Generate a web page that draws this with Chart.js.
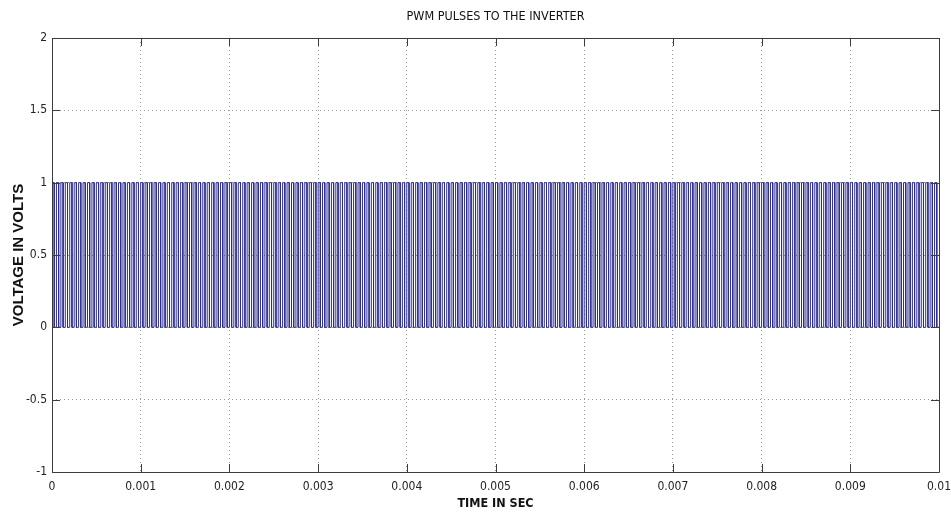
<!DOCTYPE html>
<html>
<head>
<meta charset="utf-8">
<script src="https://cdn.jsdelivr.net/npm/chart.js@4/dist/chart.umd.min.js"></script>
<style>
  html, body { margin: 0; padding: 0; background: #fff; }
  canvas { display: block; }
</style>
</head>
<body>
<canvas id="pwm-chart" width="951" height="516"></canvas>
<script>
const chartTitle = 'PWM PULSES TO THE INVERTER';
const xTitle = 'TIME IN SEC';
const yTitle = 'VOLTAGE IN VOLTS';

// carrier: about 20 pulses per 1 ms division
const carrierPeriod = 0.00005;
// on-fraction of each carrier period (all look ~half)
const dutyCycles = [
  0.5,0.5,0.5,0.5,0.5,0.5,0.5,0.5,0.5,0.5,0.5,0.5,0.5,0.5,0.5,0.5,0.5,0.5,0.5,0.5,
  0.5,0.5,0.5,0.5,0.5,0.5,0.5,0.5,0.5,0.5,0.5,0.5,0.5,0.5,0.5,0.5,0.5,0.5,0.5,0.5,
  0.5,0.5,0.5,0.5,0.5,0.5,0.5,0.5,0.5,0.5,0.5,0.5,0.5,0.5,0.5,0.5,0.5,0.5,0.5,0.5,
  0.5,0.5,0.5,0.5,0.5,0.5,0.5,0.5,0.5,0.5,0.5,0.5,0.5,0.5,0.5,0.5,0.5,0.5,0.5,0.5,
  0.5,0.5,0.5,0.5,0.5,0.5,0.5,0.5,0.5,0.5,0.5,0.5,0.5,0.5,0.5,0.5,0.5,0.5,0.5,0.5,
  0.5,0.5,0.5,0.5,0.5,0.5,0.5,0.5,0.5,0.5,0.5,0.5,0.5,0.5,0.5,0.5,0.5,0.5,0.5,0.5,
  0.5,0.5,0.5,0.5,0.5,0.5,0.5,0.5,0.5,0.5,0.5,0.5,0.5,0.5,0.5,0.5,0.5,0.5,0.5,0.5,
  0.5,0.5,0.5,0.5,0.5,0.5,0.5,0.5,0.5,0.5,0.5,0.5,0.5,0.5,0.5,0.5,0.5,0.5,0.5,0.5,
  0.5,0.5,0.5,0.5,0.5,0.5,0.5,0.5,0.5,0.5,0.5,0.5,0.5,0.5,0.5,0.5,0.5,0.5,0.5,0.5,
  0.5,0.5,0.5,0.5,0.5,0.5,0.5,0.5,0.5,0.5,0.5,0.5,0.5,0.5,0.5,0.5,0.5,0.5,0.5,0.5
];
const pulseHigh = 1;
const pulseLow = 0;

const xTicks = [0, 0.001, 0.002, 0.003, 0.004, 0.005, 0.006, 0.007, 0.008, 0.009, 0.01];
const xTickLabels = ['0', '0.001', '0.002', '0.003', '0.004', '0.005', '0.006', '0.007', '0.008', '0.009', '0.01'];
const yTicks = [-1, -0.5, 0, 0.5, 1, 1.5, 2];
const yTickLabels = ['-1', '-0.5', '0', '0.5', '1', '1.5', '2'];

// square wave points from the duty list
let points = [];
dutyCycles.forEach((d, k) => {
    let start = k * carrierPeriod;
    let off = start + d * carrierPeriod;
    points.push({x: start, y: pulseLow}, {x: start, y: pulseHigh}, {x: off, y: pulseHigh}, {x: off, y: pulseLow});
});
points.push({x: dutyCycles.length * carrierPeriod, y: pulseLow});

const narrow = "'Liberation Sans Narrow', 'Arial Narrow', 'DejaVu Sans Condensed', sans-serif";
const axisColor = '#3c3c3c';

// matlab style box: inward ticks on all sides, title over the plot
const matlabBox = {
    id: 'matlabBox',
    afterDraw(chart) {
        let ctx = chart.ctx;
        let a = chart.chartArea;
        let xs = chart.scales.x, ys = chart.scales.y;
        ctx.save();
        ctx.strokeStyle = axisColor;
        ctx.lineWidth = 1;
        ctx.beginPath();
        ctx.rect(Math.round(a.left) + 0.5, Math.round(a.top) + 0.5, Math.round(a.right - a.left), Math.round(a.bottom - a.top));
        xTicks.forEach(v => {
            let px = Math.round(xs.getPixelForValue(v)) + 0.5;
            ctx.moveTo(px, a.bottom); ctx.lineTo(px, a.bottom - 8);
            ctx.moveTo(px, a.top); ctx.lineTo(px, a.top + 8);
        });
        yTicks.forEach(v => {
            let py = Math.round(ys.getPixelForValue(v)) + 0.5;
            ctx.moveTo(a.left, py); ctx.lineTo(a.left + 8, py);
            ctx.moveTo(a.right, py); ctx.lineTo(a.right - 8, py);
        });
        ctx.stroke();
        ctx.fillStyle = '#111';
        ctx.font = '12.5px ' + narrow;
        ctx.textAlign = 'center';
        ctx.textBaseline = 'middle';
        ctx.fillText(chartTitle, (a.left + a.right) / 2, 17);
        ctx.restore();
    }
};

new Chart(document.getElementById('pwm-chart'), {
    type: 'line',
    data: {
        datasets: [
            {
                label: 'PWM',
                data: points,
                borderColor: '#2c2c8e',
                borderWidth: 1,
                pointRadius: 0,
                tension: 0,
                fill: false
            }
        ]
    },
    options: {
        responsive: false,
        animation: false,
        events: [],
        layout: {
            padding: {top: 38, right: 12, left: 0, bottom: 0}
        },
        plugins: {
            legend: {display: false},
            tooltip: {enabled: false}
        },
        scales: {
            x: {
                type: 'linear',
                min: 0,
                max: 0.01,
                afterBuildTicks: s => { s.ticks = xTicks.map(v => ({value: v})); },
                afterFit: s => { s.height = 44; s.paddingLeft = 0; s.paddingRight = 0; },
                ticks: {
                    callback: (v, i) => xTickLabels[i],
                    color: '#222',
                    font: {family: narrow, size: 12},
                    padding: 8,
                    maxRotation: 0,
                    autoSkip: false
                },
                grid: {
                    color: '#9a9a9a',
                    drawTicks: false
                },
                border: {display: false, dash: [1, 3]},
                title: {
                    display: true,
                    text: xTitle,
                    color: '#111',
                    font: {family: narrow, size: 12.5, weight: 'bold'},
                    padding: {top: 0, bottom: 5}
                }
            },
            y: {
                type: 'linear',
                min: -1,
                max: 2,
                afterBuildTicks: s => { s.ticks = yTicks.map(v => ({value: v})); },
                afterFit: s => { s.width = 52; s.paddingTop = 0; s.paddingBottom = 0; },
                ticks: {
                    callback: (v, i) => yTickLabels[i],
                    color: '#222',
                    font: {family: narrow, size: 12},
                    padding: 5
                },
                grid: {
                    color: '#9a9a9a',
                    drawTicks: false
                },
                border: {display: false, dash: [1, 3]},
                title: {
                    display: true,
                    text: yTitle,
                    color: '#111',
                    font: {family: "'Liberation Sans', Arial, sans-serif", size: 15, weight: 'bold'},
                    padding: {top: 10, bottom: 0}
                }
            }
        }
    },
    plugins: [matlabBox]
});
</script>
</body>
</html>
